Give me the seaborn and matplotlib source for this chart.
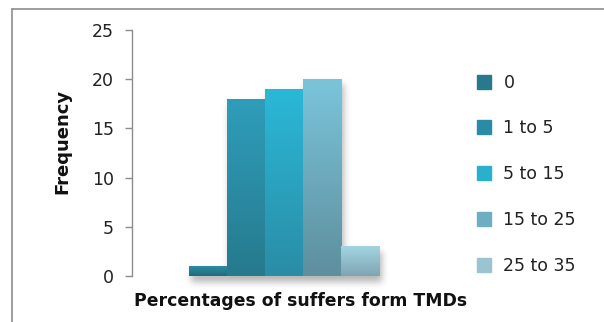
import numpy as np
import pandas as pd
import matplotlib
matplotlib.use("Agg")
import matplotlib.pyplot as plt
import seaborn as sns
from matplotlib.lines import Line2D
from matplotlib.colors import LinearSegmentedColormap

# Frequency of TMD sufferers by percentage band
categories = ["0", "1 to 5", "5 to 15", "15 to 25", "25 to 35"]
frequency = [1, 18, 19, 20, 3]
y_ticks = [0, 5, 10, 15, 20, 25]

# Per-series gradient colours (top -> bottom) and flat legend colours
top_colors = ["#2e8ca3", "#2f9dba", "#2bb8d7", "#7ac4da", "#a4d4e2"]
bottom_colors = ["#1f6b7d", "#267a8e", "#2a8da6", "#5e8f9e", "#7fa5b3"]
legend_colors = ["#28798e", "#2a8ba6", "#2ab0cf", "#6eaec2", "#9bc4d1"]

sns.set_theme(style="white")
plt.rcParams["font.family"] = ["DejaVu Sans"]

fig = plt.figure(figsize=(6.04, 3.22), dpi=100)
ax = fig.add_axes([132 / 604, 1 - 276 / 322, 338 / 604, 246 / 322])

df = pd.DataFrame({"range": categories, "freq": frequency})
sns.barplot(data=df, x="range", y="freq", hue="range", palette=legend_colors,
            width=1.0, dodge=False, legend=False, saturation=1,
            linewidth=0, ax=ax)

xlim = (-2.0, 6.89)
ylim = (0, 25)

# Vertical gradient fill for every bar
bars = list(ax.patches)
for p, top, bot in zip(bars, top_colors, bottom_colors):
    x0, w, h = p.get_x(), p.get_width(), p.get_height()
    cmap = LinearSegmentedColormap.from_list("g", [bot, top])
    grad = np.linspace(0, 1, 64).reshape(-1, 1)
    im = ax.imshow(grad, cmap=cmap, extent=[x0, x0 + w, 0, h], origin="lower",
                   aspect="auto", zorder=3, interpolation="bicubic")
    im.set_clip_path(p)
    p.set_facecolor("none")
    p.set_zorder(3)

# Soft drop shadow beneath the bars
px_x = 338 / (xlim[1] - xlim[0])
px_y = 246 / (ylim[1] - ylim[0])
gx0, gx1, gy0, gy1 = -1.0, 5.5, -2.0, 22.0
nx = int((gx1 - gx0) * px_x)
ny = int((gy1 - gy0) * px_y)
mask = np.zeros((ny, nx))
dx, dy = 2 / px_x, -5 / px_y
for p in bars:
    x0, w, h = p.get_x() + dx, p.get_width(), p.get_height()
    c0 = int((x0 - gx0) * px_x)
    c1 = int((x0 + w - gx0) * px_x)
    r0 = int((0 + dy - gy0) * px_y)
    r1 = int((h + dy - gy0) * px_y)
    mask[r0:r1, c0:c1] = 1.0
sig = 3.5
k = np.exp(-0.5 * (np.arange(-12, 13) / sig) ** 2)
k /= k.sum()
blur = np.apply_along_axis(lambda r: np.convolve(r, k, mode="same"), 1, mask)
blur = np.apply_along_axis(lambda c: np.convolve(c, k, mode="same"), 0, blur)
rgba = np.zeros((ny, nx, 4))
rgba[..., :3] = 0.35
rgba[..., 3] = blur * 0.45
sh = ax.imshow(rgba, extent=[gx0, gx1, gy0, gy1], origin="lower",
               aspect="auto", zorder=2, interpolation="bilinear")
sh.set_clip_on(False)

ax.set_xlim(*xlim)
ax.set_ylim(*ylim)
ax.set_yticks(y_ticks)
ax.set_xticks([])

for s in ["top", "right", "bottom"]:
    ax.spines[s].set_visible(False)
ax.spines["left"].set_color("#8c8c8c")
ax.spines["left"].set_linewidth(1.0)
ax.tick_params(axis="y", direction="out", length=5, width=1.0, color="#8c8c8c",
               pad=8, labelsize=12.5, labelcolor="#222222", left=True)

ax.set_ylabel("Frequency", fontsize=13, fontweight="bold", color="#111111")
ax.yaxis.set_label_coords(-0.18, 0.545)
ax.set_xlabel("Percentages of suffers form TMDs", fontsize=12.4,
              fontweight="bold", color="#111111")
ax.xaxis.set_label_coords(0.5, -0.065)

handles = [Line2D([], [], marker="s", linestyle="", markersize=10.5, color=c)
           for c in legend_colors]
fig.legend(handles, categories, loc="upper left",
           bbox_to_anchor=(460 / 604, 1 - 58 / 322), frameon=False,
           fontsize=12.5, labelspacing=1.6, handlelength=1.0,
           handletextpad=0.6, labelcolor="#222222")

# Outer chart border (top and left edges)
fig.add_artist(Line2D([12 / 604, 12 / 604], [0, 1 - 9 / 322],
                      color="#8c8c8c", lw=1.2, transform=fig.transFigure))
fig.add_artist(Line2D([12 / 604, 1], [1 - 9 / 322, 1 - 9 / 322],
                      color="#8c8c8c", lw=1.2, transform=fig.transFigure))

fig.savefig("out.png", dpi=100, facecolor="white")
